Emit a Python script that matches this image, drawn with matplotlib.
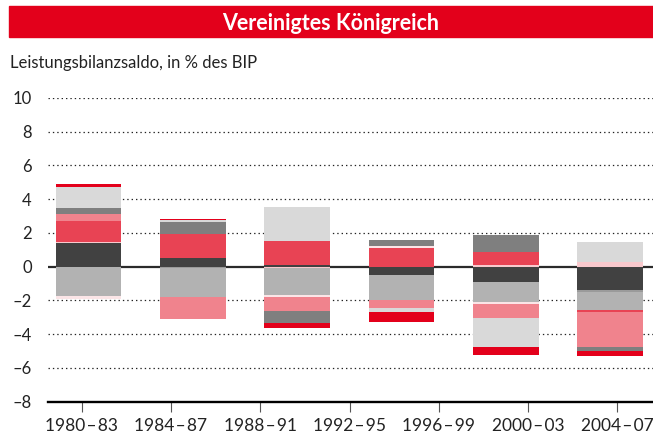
import numpy as np
import matplotlib
matplotlib.use('Agg')
import matplotlib.pyplot as plt
from matplotlib.patches import Rectangle

# Tick labels on the x axis (7 labels, the original only draws 6 bars)
periods = ['1980\u200a–\u200a83', '1984\u200a–\u200a87', '1988\u200a–\u200a91', '1992\u200a–\u200a95',
           '1996\u200a–\u200a99', '2000\u200a–\u200a03', '2004\u200a–\u200a07']
y_ticks = [-8, -6, -4, -2, 0, 2, 4, 6, 8, 10]

# Components of each bar, in stacking order (values in % of GDP)
dark_grey = [1.42, 0.52, 0.12, -0.49, -0.91, -1.38]
pale_pink = [0.06, 0.0, -0.08, 0.0, 0.10, 0.26]
grey_2 = [0.0, -0.10, 0.0, 0.0, 0.0, -0.12]
mid_grey = [-1.74, -1.70, -1.62, -1.48, -1.17, -1.07]
red = [1.24, 1.42, 1.42, 1.11, 0.79, -0.12]
near_white = [-0.20, 0.0, -0.08, 0.12, -0.12, 0.0]
pink = [0.41, -1.29, -0.83, -0.45, -0.83, -2.05]
grey = [0.36, 0.71, -0.71, 0.36, 0.99, -0.24]
light_grey = [1.24, 0.12, 1.97, -0.26, -1.72, 1.23]
bright_red = [0.16, 0.06, -0.34, -0.57, -0.47, -0.31]

series = [dark_grey, pale_pink, grey_2, mid_grey, red, near_white, pink, grey, light_grey, bright_red]
colors = ['#414141', '#f9c9cd', '#9a9a9a', '#b2b2b2', '#e84354', '#fbe5e7',
          '#f0838d', '#7f7f7f', '#d9d9d9', '#e3001b']

font = ['Lato', 'DejaVu Sans']

fig = plt.figure(figsize=(6.53, 4.43), dpi=100)
ax = fig.add_axes([0.074, 0.0932, 0.926, 0.6858])

x = np.arange(len(dark_grey))
pos_base = np.zeros(len(x))
neg_base = np.zeros(len(x))
for vals, c in zip(series, colors):
    v = np.array(vals)
    bottom = np.where(v >= 0, pos_base, neg_base)
    ax.bar(x, v, bottom=bottom, width=0.63, color=c, linewidth=0, zorder=3)
    pos_base += np.clip(v, 0, None)
    neg_base += np.clip(v, None, 0)

# dotted grid, solid zero line
for yv in y_ticks:
    if yv == -8:
        continue
    if yv == 0:
        ax.axhline(0, color='#2b2b2b', lw=1.6, zorder=2)
    else:
        ax.axhline(yv, color='#222222', lw=0.9, linestyle=(0, (1.1, 2.4)), zorder=1)

ax.set_ylim(-8, 10)
ax.set_xlim(-0.385, 5.412)
ax.set_yticks(y_ticks)
ax.set_yticklabels([str(t).replace('-', '–') for t in y_ticks], family=font, fontsize=12, color='#222222')
ax.set_xticks(np.linspace(-0.065, 5.07, len(periods)))
ax.set_xticklabels(periods, family=font, fontsize=12.5, color='#222222')
ax.tick_params(axis='y', length=0, pad=12)
ax.tick_params(axis='x', length=7.2, width=0.8, color='#555555', pad=4.5)

for s in ['top', 'right', 'left']:
    ax.spines[s].set_visible(False)
ax.spines['bottom'].set_linewidth(1.7)
ax.spines['bottom'].set_color('black')
ax.patch.set_alpha(0)

# title banner
fig.patches.append(Rectangle((9 / 653, 1 - 36.7 / 443), 1 - 9 / 653, 30.7 / 443,
                             transform=fig.transFigure, color='#e3001b', zorder=0))
fig.text(331 / 653, 1 - 29.5 / 443, 'Vereinigtes Königreich', color='white', fontsize=15.5,
         fontweight='bold', family=font, ha='center', va='baseline')
fig.text(10 / 653, 1 - 68.3 / 443, 'Leistungsbilanzsaldo, in % des BIP', color='#222222',
         fontsize=12, family=font, ha='left', va='baseline')

fig.savefig('out.png', dpi=100)
